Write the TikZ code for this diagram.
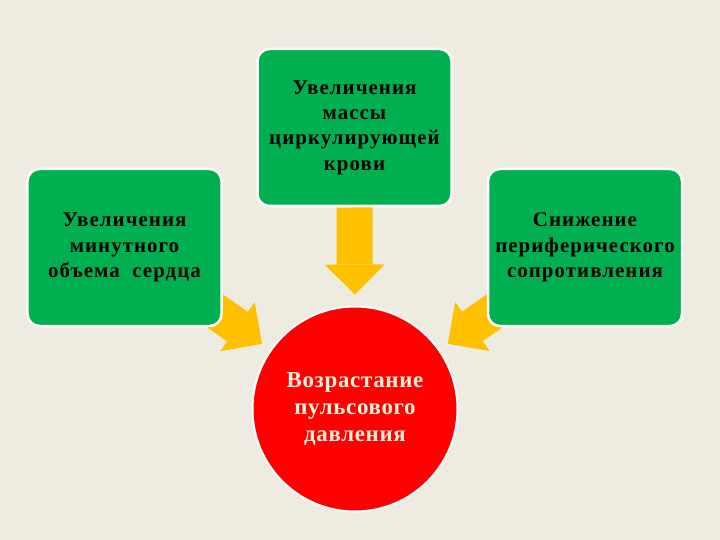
\documentclass[tikz,border=0pt]{standalone}
\usepackage{fontspec}
\setmainfont{Liberation Serif}
\newfontfamily\causefont[LetterSpace=5]{Liberation Serif}
\newfontfamily\effectfont[LetterSpace=3]{Liberation Serif}
\usetikzlibrary{arrows.meta}
\definecolor{paper}{HTML}{EEECE1}
\definecolor{boxgreen}{HTML}{00B050}
\definecolor{arrowyellow}{HTML}{FFC000}
\definecolor{pulsered}{HTML}{FF0000}
\definecolor{pulsetext}{HTML}{FFF2DC}
\pgfdeclarelayer{ground}
\pgfdeclarelayer{flow}
\pgfsetlayers{ground,flow,main}
\tikzset{
  cause/.style={rectangle, rounded corners=12bp, fill=boxgreen, draw=white, line width=2.5bp, minimum width=194bp, minimum height=157bp, align=center, text=black, font=\causefont\fontsize{21}{25.5}\selectfont\bfseries},
  effect/.style={circle, fill=pulsered, draw=white, line width=2bp, minimum size=205bp, inner sep=0pt, align=center, text=pulsetext, font=\effectfont\fontsize{23}{27}\selectfont\bfseries},
  push/.style={draw=arrowyellow, line width=36bp, -{Triangle[length=30bp,width=60bp,line width=0pt,fill=arrowyellow]}}
}
\begin{document}
\begin{tikzpicture}[x=1bp,y=-1bp]
\node[cause] (bx0) at (354.5,127.5){Увеличения\\массы\\циркулирующей\\крови};
\node[cause] (bx1) at (124.5,247.5){Увеличения\\минутного\\объема~~сердца};
\node[cause] (bx2) at (585,247.5){Снижение\\периферического\\сопротивления};
\node[effect] (ef0) at (355,409){Возрастание\\пульсового\\давления};
\begin{pgfonlayer}{ground}
\fill[paper] (0,0) rectangle (720,540);
\end{pgfonlayer}
\begin{pgfonlayer}{flow}
\draw[push, shorten >=11bp] (bx0) -- (ef0);
\draw[push, shorten <=-25bp, shorten >=10bp] (bx1) -- (ef0);
\draw[push, shorten <=-25bp, shorten >=10bp] (bx2) -- (ef0);
\end{pgfonlayer}
\end{tikzpicture}
\end{document}
